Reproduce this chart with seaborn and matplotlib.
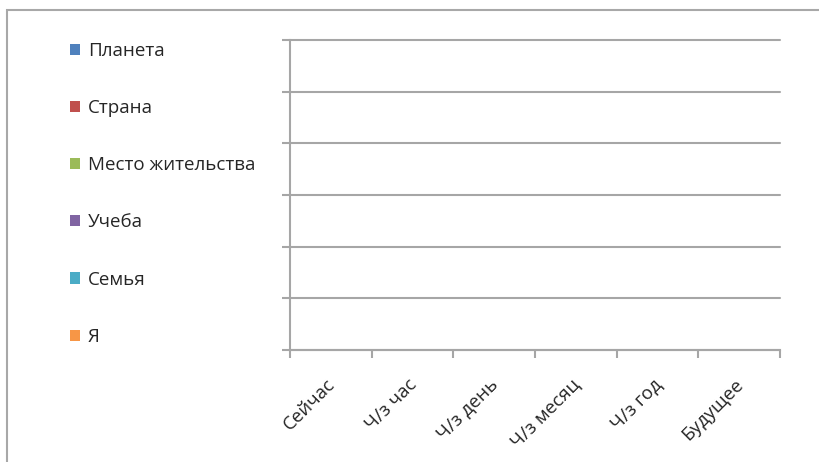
import matplotlib
matplotlib.use("Agg")
import matplotlib.pyplot as plt
from matplotlib.patches import Patch, Rectangle
from matplotlib.transforms import ScaledTranslation
import seaborn as sns
import pandas as pd

categories = ["Сейчас", "Ч/з час", "Ч/з день", "Ч/з месяц", "Ч/з год", "Будущее"]
series = ["Планета", "Страна", "Место жительства", "Учеба", "Семья", "Я"]
colors = ["#4F81BD", "#C0504D", "#9BBB59", "#8064A2", "#4BACC6", "#F79646"]
# The chart is empty: every series has no visible value
values = {
    "Планета": [0, 0, 0, 0, 0, 0],
    "Страна": [0, 0, 0, 0, 0, 0],
    "Место жительства": [0, 0, 0, 0, 0, 0],
    "Учеба": [0, 0, 0, 0, 0, 0],
    "Семья": [0, 0, 0, 0, 0, 0],
    "Я": [0, 0, 0, 0, 0, 0],
}

rows = []
for s in series:
    for c, v in zip(categories, values[s]):
        rows.append({"cat": c, "series": s, "val": v})
df = pd.DataFrame(rows)

sns.set_style("white")
plt.rcParams["font.family"] = ["Open Sans", "DejaVu Sans"]

fig = plt.figure(figsize=(8.19, 4.62), dpi=100)
ax = fig.add_axes([290 / 819, 1 - 350 / 462, 490 / 819, 310 / 462])

sns.barplot(data=df, x="cat", y="val", hue="series", order=categories,
            hue_order=series, palette=colors, ax=ax, linewidth=0,
            legend=False, errorbar=None)

grid_c = "#a6a6a6"
ax.set_xlim(-0.5, len(categories) - 0.5)
ax.set_ylim(0, 6)
ax.set_yticks(range(0, 7))
ax.set_yticklabels([])
ax.yaxis.grid(True, color=grid_c, linewidth=1.5)
for gl in ax.get_ygridlines():
    gl.set_clip_on(False)
ax.set_axisbelow(True)
for side in ["top", "right"]:
    ax.spines[side].set_visible(False)
for side in ["left", "bottom"]:
    ax.spines[side].set_color(grid_c)
    ax.spines[side].set_linewidth(1.5)
ax.set_xlabel("")
ax.set_ylabel("")

fs = 13.5
ax.set_xticks([i - 0.5 for i in range(len(categories) + 1)])
ax.set_xticklabels([])
ax.set_xticks(range(len(categories)), minor=True)
ax.set_xticklabels(categories, minor=True, rotation=45, ha="right",
                   rotation_mode="anchor", fontsize=fs, color="#262626")
ax.tick_params(axis="x", which="major", length=6, width=1.5, color=grid_c,
               direction="out", bottom=True)
ax.tick_params(axis="x", which="minor", length=0, pad=18, bottom=True)
ax.tick_params(axis="y", which="major", length=6, width=1.5, color=grid_c,
               direction="out", left=True)
shift = ScaledTranslation(-5 / 100, 0, fig.dpi_scale_trans)
for lab in ax.xaxis.get_minorticklabels():
    lab.set_transform(lab.get_transform() + shift)

handles = [Patch(facecolor=c, edgecolor="none") for c in colors]
fig.legend(handles, series, loc="upper left", bbox_to_anchor=(53 / 819, 1 - 25 / 462),
           frameon=False, fontsize=fs, handlelength=0.55, handleheight=0.55,
           handletextpad=0.4, labelspacing=2.09, labelcolor="#262626")

fig.patches.append(Rectangle((7 / 819, -0.1), 1.2, 1 - 10 / 462 + 0.1,
                             transform=fig.transFigure, fill=False,
                             edgecolor="#a8a8a8", linewidth=1.5))

fig.savefig("out.png", dpi=100)
